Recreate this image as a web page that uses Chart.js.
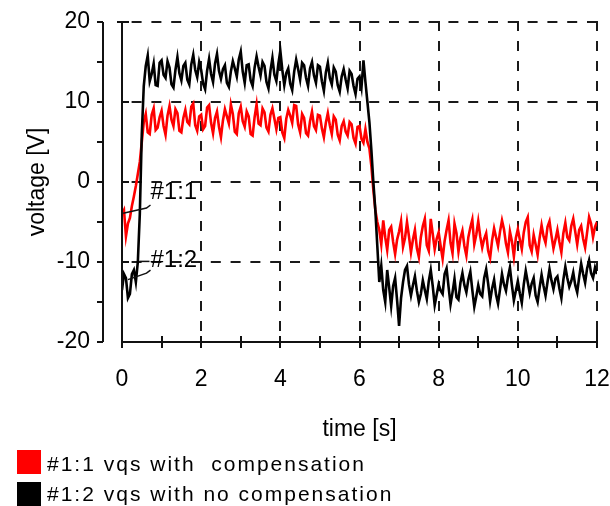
<!DOCTYPE html>
<html><head><meta charset="utf-8">
<script src="https://cdn.jsdelivr.net/npm/chart.js@4.4.0/dist/chart.umd.min.js"></script>
<style>
html,body{margin:0;padding:0;background:#fff;}
#wrap{position:relative;width:610px;height:506px;overflow:hidden;background:#fff;}
#c{position:absolute;left:0;top:0;}
.sw{position:absolute;left:17px;width:24px;height:24px;}
.lt{position:absolute;left:47px;font-family:"Liberation Sans",Arial,sans-serif;font-size:21px;letter-spacing:2px;white-space:pre;color:#000;line-height:24px;}
</style></head>
<body>
<div id="wrap">
<canvas id="c" width="610" height="506"></canvas>
<div class="sw" id="sw0" style="top:450px;"></div><div class="lt" id="lt0" style="top:452px;"></div>
<div class="sw" id="sw1" style="top:482px;"></div><div class="lt" id="lt1" style="top:482px;"></div>
</div>
<script>
// ---- data ----
const time = [
 0,0.05,0.1,0.15,0.2,0.25,0.3,0.35,0.4,0.45,0.5,0.55,0.6,0.65,0.7,0.75,0.8,0.85,0.9,0.95,
 1,1.05,1.1,1.15,1.2,1.25,1.3,1.35,1.4,1.45,1.5,1.55,1.6,1.65,1.7,1.75,1.8,1.85,1.9,1.95,
 2,2.05,2.1,2.15,2.2,2.25,2.3,2.35,2.4,2.45,2.5,2.55,2.6,2.65,2.7,2.75,2.8,2.85,2.9,2.95,
 3,3.05,3.1,3.15,3.2,3.25,3.3,3.35,3.4,3.45,3.5,3.55,3.6,3.65,3.7,3.75,3.8,3.85,3.9,3.95,
 4,4.05,4.1,4.15,4.2,4.25,4.3,4.35,4.4,4.45,4.5,4.55,4.6,4.65,4.7,4.75,4.8,4.85,4.9,4.95,
 5,5.05,5.1,5.15,5.2,5.25,5.3,5.35,5.4,5.45,5.5,5.55,5.6,5.65,5.7,5.75,5.8,5.85,5.9,5.95,
 6,6.05,6.1,6.15,6.2,6.25,6.3,6.35,6.4,6.45,6.5,6.55,6.6,6.65,6.7,6.75,6.8,6.85,6.9,6.95,
 7,7.05,7.1,7.15,7.2,7.25,7.3,7.35,7.4,7.45,7.5,7.55,7.6,7.65,7.7,7.75,7.8,7.85,7.9,7.95,
 8,8.05,8.1,8.15,8.2,8.25,8.3,8.35,8.4,8.45,8.5,8.55,8.6,8.65,8.7,8.75,8.8,8.85,8.9,8.95,
 9,9.05,9.1,9.15,9.2,9.25,9.3,9.35,9.4,9.45,9.5,9.55,9.6,9.65,9.7,9.75,9.8,9.85,9.9,9.95,
 10,10.05,10.1,10.15,10.2,10.25,10.3,10.35,10.4,10.45,10.5,10.55,10.6,10.65,10.7,10.75,10.8,10.85,10.9,10.95,
 11,11.05,11.1,11.15,11.2,11.25,11.3,11.35,11.4,11.45,11.5,11.55,11.6,11.65,11.7,11.75,11.8,11.85,11.9,11.95,
 12
];
const vqsComp = [
 -4.0,-3.5,-6.8,-5.2,-4.5,-3.0,-1.8,-0.5,1.0,2.5,5.0,7.5,8.5,6.2,6.0,8.4,9.2,6.5,6.8,8.1,
 8.9,7.0,5.9,8.3,9.5,7.8,7.0,9.1,8.6,6.4,6.2,8.0,9.0,7.5,7.2,9.4,9.8,7.1,6.4,8.2,
 8.4,6.6,7.0,9.3,9.6,7.4,6.1,8.0,8.8,6.9,5.6,7.7,9.1,8.2,7.3,9.7,8.5,6.3,6.0,8.6,
 9.4,7.6,6.9,8.8,8.2,6.0,5.8,8.1,9.7,7.3,7.1,9.2,8.7,6.8,6.3,8.4,9.2,7.9,6.6,8.0,
 8.1,6.2,5.5,7.9,9.0,8.3,7.4,9.6,9.5,7.2,6.2,8.5,8.0,6.1,5.8,7.6,8.8,7.0,6.5,8.4,
 8.3,6.7,5.6,7.4,8.6,7.1,6.0,8.2,7.8,5.9,5.2,7.0,7.6,6.3,5.8,7.5,7.2,5.5,4.8,6.9,
 7.0,5.4,4.9,6.6,5.0,4.2,2.0,-1.0,-3.5,-5.0,-6.0,-7.8,-4.8,-6.9,-8.5,-6.0,-5.6,-7.5,-9.0,-7.2,
 -6.2,-4.9,-8.1,-7.0,-5.0,-6.8,-8.8,-7.2,-6.0,-8.3,-9.4,-6.9,-5.5,-4.6,-7.9,-8.6,-4.6,-6.5,-8.4,-7.1,
 -6.3,-8.0,-9.6,-7.4,-6.0,-4.8,-7.6,-8.9,-5.2,-6.4,-8.7,-7.0,-6.1,-8.0,-9.2,-6.9,-5.7,-4.7,-7.8,-6.6,
 -4.9,-6.8,-8.2,-7.1,-6.4,-8.6,-9.5,-7.3,-5.8,-6.9,-8.0,-6.2,-4.8,-5.9,-7.7,-8.8,-6.2,-7.4,-9.3,-7.0,
 -5.9,-7.2,-8.4,-6.3,-5.0,-4.4,-7.9,-8.7,-6.6,-7.8,-9.1,-7.0,-5.4,-6.8,-7.6,-5.6,-4.9,-6.7,-8.3,-7.2,
 -6.0,-7.5,-8.8,-6.4,-5.1,-6.9,-7.3,-5.5,-4.6,-6.2,-7.8,-6.0,-5.5,-7.1,-8.2,-6.3,-4.4,-5.2,-6.9,-5.6,
 -5.0
];
const vqsNoComp = [
 -13.5,-11.5,-12.0,-14.5,-14.0,-11.5,-11.0,-12.5,-10.0,-4.0,6.0,12.0,14.5,15.8,12.6,13.5,14.8,12.1,12.0,14.9,
 15.2,13.4,13.0,15.1,14.3,12.2,11.8,14.0,15.6,13.6,12.7,14.5,14.9,12.8,12.2,14.7,15.9,14.0,13.1,15.0,
 14.0,12.3,11.6,13.9,15.4,13.5,12.5,14.8,16.0,13.9,12.9,14.1,14.6,12.4,11.9,13.8,15.1,14.2,13.2,15.3,
 16.3,13.8,12.4,14.6,14.7,12.7,12.0,14.3,15.7,14.4,13.3,15.0,14.5,12.5,11.7,13.9,15.5,13.4,12.6,14.8,
 16.4,14.0,12.1,13.6,14.2,12.3,11.5,13.8,15.3,14.1,12.8,14.9,14.6,13.0,12.0,14.2,15.0,13.3,12.4,14.6,
 14.4,12.6,11.4,13.7,14.9,13.0,12.2,14.3,13.8,12.1,11.3,13.2,14.1,12.8,11.7,13.9,13.5,12.0,11.0,12.9,
 13.2,11.8,15.2,12.5,10.0,7.5,4.0,0.0,-3.5,-8.0,-12.5,-10.5,-13.5,-15.0,-11.0,-13.2,-15.5,-13.0,-12.0,-14.8,
 -18.0,-14.5,-12.5,-11.0,-10.5,-12.8,-14.2,-12.9,-11.8,-13.6,-15.0,-14.0,-12.3,-13.5,-14.6,-12.4,-11.0,-13.0,-15.4,-14.1,
 -12.8,-13.6,-14.0,-11.5,-10.8,-13.1,-15.3,-13.8,-12.1,-14.4,-14.7,-12.6,-11.4,-12.9,-13.8,-12.2,-11.2,-13.5,-15.6,-14.3,
 -12.9,-14.0,-14.3,-12.0,-10.9,-12.7,-14.9,-13.3,-12.2,-14.1,-15.2,-13.4,-11.5,-12.8,-13.6,-11.9,-10.7,-12.9,-14.8,-13.6,
 -12.4,-13.9,-15.1,-12.8,-11.1,-12.5,-13.9,-12.7,-12.0,-14.2,-15.0,-13.2,-11.6,-13.0,-14.2,-12.5,-10.9,-12.3,-13.4,-12.1,
 -11.8,-13.3,-14.5,-12.2,-10.6,-12.0,-13.1,-12.4,-11.3,-12.9,-13.8,-11.9,-10.2,-11.5,-12.6,-10.8,-9.8,-11.4,-12.0,-10.7,
 -11.5
];
const seriesNames = ['#1:1 vqs with  compensation', '#1:2 vqs with no compensation'];
const seriesColors = ['#ff0000', '#000000'];
const xGridTicks = [2, 4, 6, 8, 10, 12];
const xMinorTicks = [0,1,2,3,4,5,6,7,8,9,10,11,12];
const yGridTicks = [20, 10, 0, -10];
const yMajorTicks = [20, 10, 0, -10, -20];
const yMinorTicks = [20, 15, 10, 5, 0, -5, -10, -15, -20];
const xTitle = 'time [s]';
const yTitle = 'voltage [V]';
// annotation labels: [text, textX, textY, leaderFromX, leaderFromY, leaderToX, leaderToY]
const annotations = [
  ['#1:1', 0.72, -1.3, 0.72, -3.25, 0.03, -3.9],
  ['#1:2', 0.72, -9.8, 0.72, -11.4, 0.15, -12.2]
];

// ---- legend (HTML text) ----
seriesNames.forEach((n, i) => {
  document.getElementById('lt' + i).textContent = n;
  document.getElementById('sw' + i).style.background = seriesColors[i];
});

const FONT = '"Liberation Sans", Arial, sans-serif';

const framePlugin = {
  id: 'frame',
  beforeDatasetsDraw(chart) {
    const {ctx, chartArea: a, scales: {x, y}} = chart;
    ctx.save();
    ctx.strokeStyle = '#1a1a1a';
    ctx.lineWidth = 2;
    ctx.setLineDash([10, 9.8]);
    yGridTicks.forEach(v => {
      const py = Math.round(y.getPixelForValue(v));
      ctx.beginPath(); ctx.moveTo(a.right, py); ctx.lineTo(a.left, py); ctx.stroke();
    });
    ctx.setLineDash([10, 10]);
    xGridTicks.forEach(v => {
      const px = Math.round(x.getPixelForValue(v));
      ctx.beginPath(); ctx.moveTo(px, a.top - 1); ctx.lineTo(px, a.bottom); ctx.stroke();
    });
    ctx.restore();
  },
  afterDatasetsDraw(chart) {
    const {ctx, chartArea: a, scales: {x, y}} = chart;
    ctx.save();
    ctx.strokeStyle = '#111';
    ctx.lineWidth = 2;
    ctx.setLineDash([]);
    const x0 = Math.round(x.getPixelForValue(0));
    const yb = Math.round(y.getPixelForValue(-20));
    const yt = Math.round(y.getPixelForValue(20));
    ctx.beginPath(); ctx.moveTo(x0, yt); ctx.lineTo(x0, yb + 6); ctx.stroke();
    yMajorTicks.forEach(v => {
      const py = Math.round(y.getPixelForValue(v));
      ctx.beginPath(); ctx.moveTo(x0 - (v === 20 ? 5 : 0), py); ctx.lineTo(x0 + 7, py); ctx.stroke();
    });
    ctx.beginPath(); ctx.moveTo(x0, yb); ctx.lineTo(Math.round(x.getPixelForValue(12)), yb); ctx.stroke();
    xMinorTicks.forEach(v => {
      const px = Math.round(x.getPixelForValue(v));
      ctx.beginPath(); ctx.moveTo(px, yb - (v === 12 ? 12 : 6)); ctx.lineTo(px, yb + 6); ctx.stroke();
    });
    const xl = a.left - 19;
    ctx.beginPath(); ctx.moveTo(xl, yt); ctx.lineTo(xl, yb); ctx.stroke();
    yMinorTicks.forEach(v => {
      const py = Math.round(y.getPixelForValue(v));
      ctx.beginPath(); ctx.moveTo(xl - 6, py); ctx.lineTo(xl, py); ctx.stroke();
    });
    ctx.lineWidth = 1.5;
    ctx.fillStyle = '#000';
    ctx.font = '24px ' + FONT;
    ctx.textBaseline = 'middle';
    ctx.textAlign = 'left';
    annotations.forEach(([t, tx, ty, fx, fy, lx, ly]) => {
      const px = x.getPixelForValue(tx), py = y.getPixelForValue(ty);
      ctx.fillText(t, px, py);
      ctx.beginPath();
      ctx.moveTo(x.getPixelForValue(fx), y.getPixelForValue(fy) - 3);
      ctx.lineTo(x.getPixelForValue(fx) - 4, y.getPixelForValue(fy));
      ctx.lineTo(x.getPixelForValue(lx), y.getPixelForValue(ly));
      ctx.stroke();
    });
    const d = annotations[1];
    ctx.beginPath();
    ctx.moveTo(x.getPixelForValue(d[1]) - 11, y.getPixelForValue(d[2]) + 1);
    ctx.lineTo(x.getPixelForValue(d[1]) - 1, y.getPixelForValue(d[2]) + 1);
    ctx.stroke();
    ctx.restore();
  }
};

new Chart(document.getElementById('c'), {
  type: 'line',
  data: {
    datasets: [
      { label: seriesNames[0], data: time.map((t, i) => ({x: t, y: vqsComp[i]})),
        borderColor: seriesColors[0], backgroundColor: seriesColors[0], borderWidth: 2.6, order: 1 },
      { label: seriesNames[1], data: time.map((t, i) => ({x: t, y: vqsNoComp[i]})),
        borderColor: seriesColors[1], backgroundColor: seriesColors[1], borderWidth: 2.6, order: 0 }
    ]
  },
  options: {
    responsive: false,
    animation: false,
    devicePixelRatio: 1,
    layout: { padding: { left: 0, right: 13, top: 22, bottom: 0 } },
    elements: { point: { radius: 0 }, line: { tension: 0 } },
    plugins: { legend: { display: false }, tooltip: { enabled: false } },
    scales: {
      x: {
        type: 'linear', min: 0, max: 12,
        grid: { display: false, drawTicks: false },
        border: { display: false },
        ticks: { stepSize: 2, color: '#000', font: { family: FONT, size: 23 }, padding: 24, maxRotation: 0 },
        title: { display: true, text: xTitle, color: '#000', font: { family: FONT, size: 23 }, padding: { top: 0, bottom: 63 } },
        afterFit(s) { s.height = 164; s.paddingLeft = 0; s.paddingRight = 0; }
      },
      y: {
        type: 'linear', min: -20, max: 20,
        grid: { display: false, drawTicks: false },
        border: { display: false },
        ticks: { stepSize: 10, color: '#000', font: { family: FONT, size: 23 }, padding: 32 },
        title: { display: true, text: yTitle, color: '#000', font: { family: FONT, size: 23 }, padding: { top: 24, bottom: 0 } },
        afterFit(s) { s.width = 122; s.paddingTop = 0; s.paddingBottom = 0; }
      }
    }
  },
  plugins: [framePlugin]
});
</script>
</body></html>
